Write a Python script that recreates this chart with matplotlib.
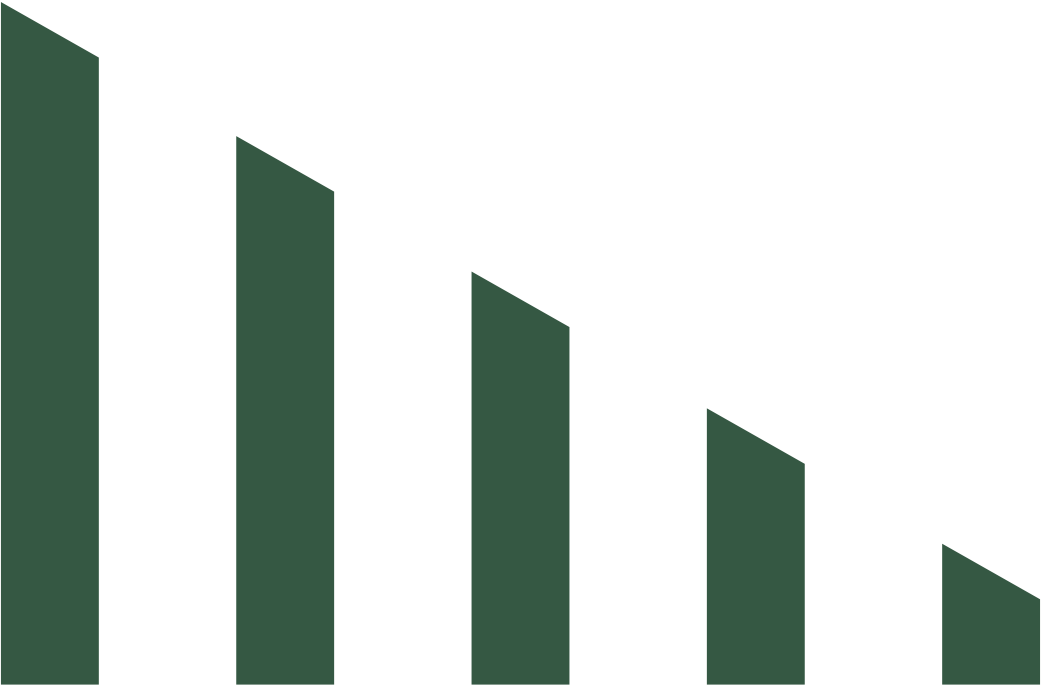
import matplotlib
matplotlib.use('Agg')
import matplotlib.pyplot as plt
import numpy as np

# bar heights at the left edge of each slanted top, and the drop to the right edge
positions = [0, 1, 2, 3, 4]
left_tops = [5.04, 4.05, 3.05, 2.04, 1.04]
slant = 0.41

bar_color = '#355843'
width = 0.416

fig = plt.figure(figsize=(10.41, 6.85), dpi=100)
ax = fig.add_axes([0, 0, 1, 1])

for x, top in zip(positions, left_tops):
    x0 = x - width / 2
    x1 = x + width / 2
    ax.fill([x0, x0, x1, x1], [0, top, top - slant, 0],
            color=bar_color, linewidth=0)

ax.set_xlim(positions[0] - width / 2 - 0.004, positions[-1] + width / 2 + 0.004)
ax.set_ylim(-0.003, 5.055)
ax.axis('off')

plt.savefig('out.png', dpi=100, facecolor='white')
